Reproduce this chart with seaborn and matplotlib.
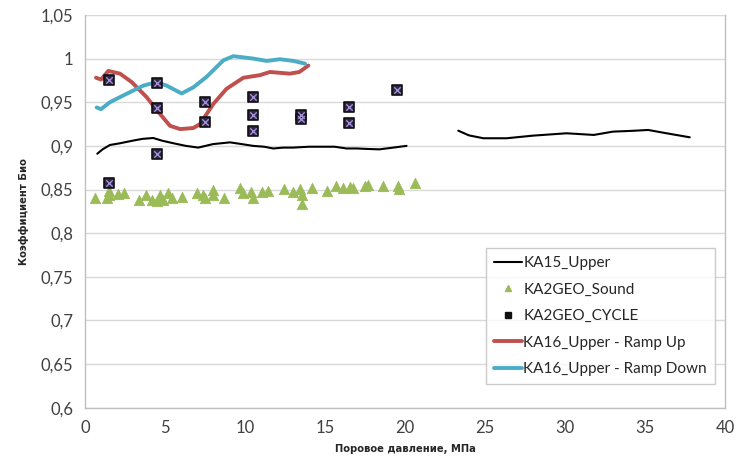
import numpy as np
import pandas as pd
import matplotlib
matplotlib.use("Agg")
import matplotlib.pyplot as plt
from matplotlib.lines import Line2D
from matplotlib.ticker import FuncFormatter
import seaborn as sns

# KA15_Upper (two pieces, gap between ~20 and ~23 MPa)
ka15_x1 = [0.77, 1.1, 1.56, 2.2, 3.0, 3.6, 4.27, 4.8, 5.52, 6.3, 7.08, 8.0, 9.06, 9.8, 10.5, 11.2, 11.77, 12.4, 13.0, 14.0, 14.9, 15.6, 16.35, 17.0, 17.6, 18.4, 19.27, 20.1]
ka15_y1 = [0.891, 0.896, 0.901, 0.903, 0.906, 0.908, 0.909, 0.906, 0.903, 0.900, 0.898, 0.902, 0.904, 0.902, 0.900, 0.899, 0.897, 0.898, 0.898, 0.899, 0.899, 0.899, 0.897, 0.897, 0.8965, 0.896, 0.898, 0.900]
ka15_x2 = [23.33, 24.0, 24.9, 26.35, 28.0, 30.1, 31.8, 33.0, 34.2, 35.2, 36.35, 37.8]
ka15_y2 = [0.9174, 0.912, 0.9087, 0.9087, 0.9117, 0.9144, 0.9125, 0.9163, 0.9172, 0.9182, 0.9144, 0.9098]

# KA16_Upper - Ramp Up
up_x = [0.69, 1.0, 1.46, 2.19, 2.92, 3.85, 4.69, 5.31, 5.94, 6.77, 7.19, 8.02, 8.85, 9.9, 10.94, 11.56, 12.8, 13.4, 13.96]
up_y = [0.978, 0.976, 0.9858, 0.9827, 0.973, 0.9558, 0.9365, 0.923, 0.9192, 0.9204, 0.925, 0.948, 0.9654, 0.978, 0.981, 0.9846, 0.9827, 0.9846, 0.992]

# KA16_Upper - Ramp Down
down_x = [0.73, 1.0, 1.56, 2.6, 3.65, 4.48, 5.1, 6.04, 6.77, 7.6, 8.65, 9.27, 10.5, 11.35, 12.19, 13.02, 13.75]
down_y = [0.944, 0.942, 0.950, 0.9596, 0.969, 0.973, 0.969, 0.960, 0.967, 0.979, 0.998, 1.0027, 1.000, 0.9973, 0.9992, 0.9973, 0.9942]

# KA2GEO_CYCLE
cyc_x = [1.5, 1.5, 4.5, 4.5, 4.5, 7.5, 7.5, 10.5, 10.5, 10.5, 13.5, 13.5, 16.5, 16.5, 19.5]
cyc_y = [0.9758, 0.8577, 0.9719, 0.9435, 0.8912, 0.950, 0.927, 0.9565, 0.9358, 0.9165, 0.9358, 0.9308, 0.945, 0.926, 0.9642]

# KA2GEO_Sound
snd_x = [0.63, 1.35, 1.5, 1.5, 2.08, 2.44, 3.4, 3.81, 4.17, 4.48, 4.69, 4.9, 5.2, 5.42, 6.04, 6.98, 7.4, 7.5, 7.98, 8.02,
         8.69, 9.69, 9.9, 10.4, 10.48, 11.04, 11.46, 12.44, 13.02, 13.44, 13.54, 13.54, 14.17, 15.1, 15.69, 16.15, 16.56,
         16.73, 17.5, 17.71, 18.6, 19.58, 19.6, 20.6]
snd_y = [0.8398, 0.8398, 0.8436, 0.848, 0.8443, 0.8455, 0.8379, 0.8436, 0.838, 0.8367, 0.8436, 0.838, 0.8455, 0.8405, 0.8417,
         0.8455, 0.8436, 0.8398, 0.8492, 0.8436, 0.8405, 0.852, 0.8455, 0.8473, 0.8398, 0.8473, 0.848, 0.8504, 0.8473, 0.8504,
         0.8436, 0.833, 0.852, 0.848, 0.8542, 0.852, 0.853, 0.852, 0.8542, 0.855, 0.8542, 0.8542, 0.851, 0.8576]

yticks = [0.6, 0.65, 0.7, 0.75, 0.8, 0.85, 0.9, 0.95, 1.0, 1.05]
xticks = [0, 5, 10, 15, 20, 25, 30, 35, 40]

black = "#000000"
red = "#C0504D"
cyan = "#4BACC6"
green = "#9BBB59"

sns.set_style("white")
plt.rcParams["font.family"] = ["Lato", "DejaVu Sans"]

fig = plt.figure(figsize=(7.39, 4.65), dpi=100)
ax = fig.add_axes([0.115, 0.123, 0.866, 0.845])

sns.lineplot(x=ka15_x1, y=ka15_y1, sort=False, color=black, lw=1.5, ax=ax)
sns.lineplot(x=ka15_x2, y=ka15_y2, sort=False, color=black, lw=1.5, ax=ax)
sns.scatterplot(x=snd_x, y=snd_y, marker="^", s=55, color=green, edgecolor=green, ax=ax, zorder=3)
sns.scatterplot(x=cyc_x, y=cyc_y, marker="s", s=55, color="#2e2448", edgecolor="#111111", linewidth=1.2, ax=ax, zorder=4)
sns.scatterplot(x=cyc_x, y=cyc_y, marker="x", s=22, color="#a28fd0", linewidth=1.0, ax=ax, zorder=5)
sns.lineplot(x=up_x, y=up_y, sort=False, color=red, lw=2.8, ax=ax)
sns.lineplot(x=down_x, y=down_y, sort=False, color=cyan, lw=2.8, ax=ax)

ax.set_xlim(0, 40)
ax.set_ylim(0.6, 1.05)
ax.set_xticks(xticks)
ax.set_yticks(yticks)

def comma(v, pos):
    s = ("%.2f" % v).rstrip("0").rstrip(".")
    return s.replace(".", ",")

ax.yaxis.set_major_formatter(FuncFormatter(comma))
ax.tick_params(axis="both", labelsize=12, colors="#bfbfbf", labelcolor="#404040", length=5, width=1)
ax.grid(axis="y", color="#d9d9d9", lw=1)
ax.grid(axis="x", visible=False)
for side in ["left", "bottom", "right"]:
    ax.spines[side].set_color("#bfbfbf")
    ax.spines[side].set_linewidth(1)
ax.spines["top"].set_visible(False)

ax.set_xlabel("Поровое давление, МПа", fontsize=8, fontweight="bold", family="DejaVu Sans",
              fontstretch="condensed", labelpad=6)
ax.set_ylabel("Коэффициент Био", fontsize=8, fontweight="bold", family="DejaVu Sans",
              fontstretch="condensed", labelpad=8)

handles = [
    Line2D([], [], color=black, lw=1.5),
    Line2D([], [], color=green, marker="^", ls="none", markersize=5),
    Line2D([], [], color="#111111", marker="s", ls="none", markersize=5),
    Line2D([], [], color=red, lw=2.8),
    Line2D([], [], color=cyan, lw=2.8),
]
labels = ["KA15_Upper", "KA2GEO_Sound", "KA2GEO_CYCLE", "KA16_Upper - Ramp Up", "KA16_Upper - Ramp Down"]
leg = ax.legend(handles, labels, loc="lower right", bbox_to_anchor=(0.997, 0.04), fontsize=11,
                frameon=True, fancybox=False, edgecolor="#bfbfbf", handlelength=1.8, handletextpad=0.1,
                labelspacing=0.82, borderpad=0.55)
leg.get_frame().set_linewidth(1)
for t in leg.get_texts():
    t.set_color("#262626")

fig.savefig("out.png", dpi=100)
